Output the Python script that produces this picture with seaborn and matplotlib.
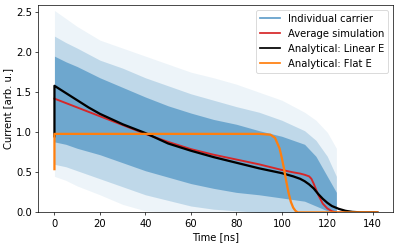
import numpy as np
import pandas as pd
import matplotlib
matplotlib.use("Agg")
import matplotlib.pyplot as plt
import seaborn as sns
from matplotlib.lines import Line2D

# ---- data ----
# spread of the individual carrier traces (outer faint / middle / dense core)
t_band = [0, 5, 10, 20, 30, 40, 50, 60, 70, 80, 90, 100, 110, 115, 120, 124]
upper_outer = [2.52, 2.42, 2.32, 2.15, 2.05, 1.95, 1.85, 1.75, 1.68, 1.60, 1.50, 1.40, 1.25, 1.15, 1.00, 0.80]
lower_outer = [0.45, 0.40, 0.33, 0.22, 0.10, 0.02, 0.0, 0.0, 0.0, 0.0, 0.0, 0.0, 0.0, 0.0, 0.0, 0.0]
upper_mid = [2.20, 2.12, 2.05, 1.90, 1.80, 1.68, 1.58, 1.48, 1.40, 1.32, 1.25, 1.15, 1.02, 0.90, 0.70, 0.45]
lower_mid = [0.60, 0.57, 0.52, 0.42, 0.32, 0.22, 0.15, 0.08, 0.04, 0.02, 0.0, 0.0, 0.0, 0.0, 0.0, 0.0]
upper_in = [1.95, 1.88, 1.82, 1.68, 1.56, 1.44, 1.33, 1.24, 1.16, 1.10, 1.02, 0.95, 0.85, 0.70, 0.45, 0.25]
lower_in = [0.88, 0.85, 0.80, 0.72, 0.62, 0.52, 0.44, 0.36, 0.30, 0.25, 0.22, 0.18, 0.14, 0.08, 0.02, 0.0]

# average of the simulation
t_avg = [0, 10, 20, 30, 40, 50, 60, 70, 80, 90, 100, 105, 108, 110, 112, 113, 114, 115, 116, 118, 120, 122, 124, 142]
i_avg = [1.42, 1.31, 1.20, 1.09, 0.98, 0.88, 0.79, 0.72, 0.66, 0.60, 0.53, 0.50, 0.485, 0.47, 0.45, 0.42, 0.36, 0.29, 0.22, 0.11, 0.05, 0.015, 0.0, 0.0]

# analytical, linear field
t_lin = [0, 0, 5, 10, 15, 20, 30, 40, 50, 60, 70, 80, 90, 100, 105, 108, 110, 112, 114, 116, 118, 120, 122, 125, 128, 131, 135, 142]
i_lin = [0.95, 1.58, 1.49, 1.40, 1.31, 1.23, 1.10, 0.99, 0.86, 0.77, 0.69, 0.62, 0.55, 0.49, 0.45, 0.42, 0.39, 0.35, 0.30, 0.23, 0.17, 0.12, 0.08, 0.045, 0.02, 0.007, 0.0, 0.0]

# analytical, flat field
t_flat = [0, 0, 10, 50, 90, 95, 97, 99, 100, 101, 102, 103, 104, 105, 106, 107, 142]
i_flat = [0.54, 0.98, 0.98, 0.98, 0.98, 0.97, 0.93, 0.80, 0.68, 0.54, 0.38, 0.24, 0.13, 0.06, 0.02, 0.0, 0.0]

plt.rcParams["font.size"] = 11.5

fig, ax = plt.subplots(figsize=(6.4, 3.93), dpi=62.35)
fig.subplots_adjust(left=0.096, right=0.986, top=0.98, bottom=0.133)

blue = "#1f77b4"
ax.fill_between(t_band, lower_outer, upper_outer, color=blue, alpha=0.08, lw=0)
ax.fill_between(t_band, lower_mid, upper_mid, color=blue, alpha=0.22, lw=0)
ax.fill_between(t_band, lower_in, upper_in, color=blue, alpha=0.5, lw=0)

sns.lineplot(x=t_avg, y=i_avg, ax=ax, color="#d62728", lw=2.2, sort=False, estimator=None)
sns.lineplot(x=t_lin, y=i_lin, ax=ax, color="black", lw=2.6, sort=False, estimator=None)
sns.lineplot(x=t_flat, y=i_flat, ax=ax, color="#ff7f0e", lw=2.6, sort=False, estimator=None)

ax.set_xlim(-7.1, 149.1)
ax.set_ylim(0, 2.59)
ax.set_xlabel("Time [ns]")
ax.set_ylabel("Current [arb. u.]")

handles = [
    Line2D([], [], color=blue, alpha=0.7, lw=2),
    Line2D([], [], color="#d62728", lw=2),
    Line2D([], [], color="black", lw=2),
    Line2D([], [], color="#ff7f0e", lw=2),
]
labels = ["Individual carrier", "Average simulation", "Analytical: Linear E", "Analytical: Flat E"]
ax.legend(handles, labels, loc="upper right")

fig.savefig("out.png", dpi=62.35)
